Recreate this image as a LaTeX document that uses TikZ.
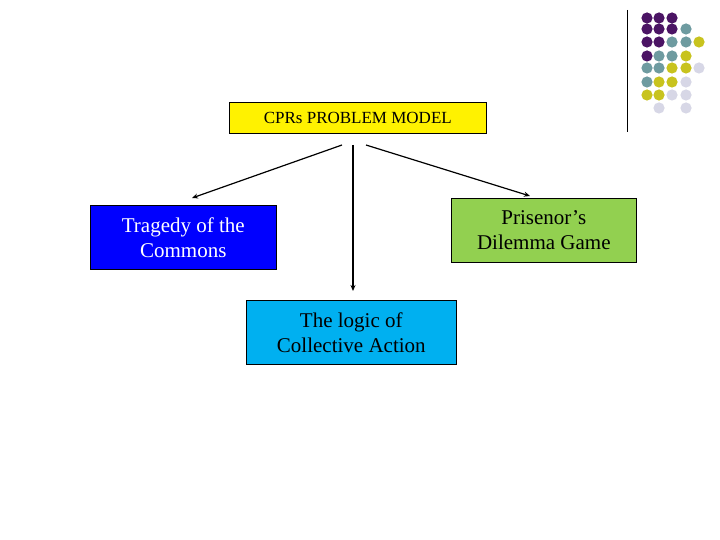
\documentclass[tikz,border=0pt]{standalone}
\usepackage{fontspec}
\setmainfont{Liberation Serif}
\usetikzlibrary{arrows.meta}
\definecolor{dP}{RGB}{75,20,100}
\definecolor{dT}{RGB}{110,155,160}
\definecolor{dY}{RGB}{200,195,30}
\definecolor{dL}{RGB}{215,215,230}
\definecolor{gr}{RGB}{146,208,80}
\definecolor{cy}{RGB}{0,176,240}
\tikzset{bx/.style={draw=black,line width=0.6pt,minimum width=#1,inner sep=0pt,align=center,anchor=north west,font=\fontsize{21}{25}\selectfont},
ar/.style={line width=1.2pt,-{Stealth[length=6pt,width=5pt]}}}
\begin{document}
\begin{tikzpicture}[x=1pt,y=-1pt]
\useasboundingbox (0,0) rectangle (720,540);
\fill[white] (0,0) rectangle (720,540);
\draw[line width=0.8pt] (627,10) -- (627,132);
\def\dot#1#2#3{\fill[#3] (#1,#2) circle (5.6);}
\dot{647}{18}{dP}\dot{659}{18}{dP}\dot{672}{18}{dP}
\dot{647}{29}{dP}\dot{659}{29}{dP}\dot{672}{29}{dP}\dot{686}{29}{dT}
\dot{647}{42}{dP}\dot{659}{42}{dP}\dot{672}{42}{dT}\dot{686}{42}{dT}\dot{699}{42}{dY}
\dot{647}{56}{dP}\dot{659}{56}{dT}\dot{672}{56}{dT}\dot{686}{56}{dY}
\dot{647}{68}{dT}\dot{659}{68}{dT}\dot{672}{68}{dY}\dot{686}{68}{dY}\dot{699}{68}{dL}
\dot{647}{82}{dT}\dot{659}{82}{dY}\dot{672}{82}{dY}\dot{686}{82}{dL}
\dot{647}{95}{dY}\dot{659}{95}{dY}\dot{672}{95}{dL}\dot{686}{95}{dL}
\dot{659}{108}{dL}\dot{686}{108}{dL}
\node[bx=257pt,minimum height=31pt,fill=yellow,font=\fontsize{17}{20}\selectfont] (cpr) at (229,102) {CPRs PROBLEM MODEL};
\node[bx=186pt,minimum height=64pt,fill=blue,text=white] (tr) at (90,205) {Tragedy of the\\Commons};
\node[bx=185pt,minimum height=64pt,fill=gr] (pd) at (451,198) {Prisenor’s\\Dilemma Game};
\node[bx=210pt,minimum height=64pt,fill=cy] (lo) at (246,300) {The logic of\\Collective Action};
\coordinate (s1) at (342,145); \coordinate (s2) at (353,145); \coordinate (s3) at (366,145);
\coordinate (e1) at (192,198); \coordinate (e2) at (353,291); \coordinate (e3) at (530,196);
\draw[ar] (s1) -- (e1);
\draw[ar] (s2) -- (e2);
\draw[ar] (s3) -- (e3);
\end{tikzpicture}
\end{document}
